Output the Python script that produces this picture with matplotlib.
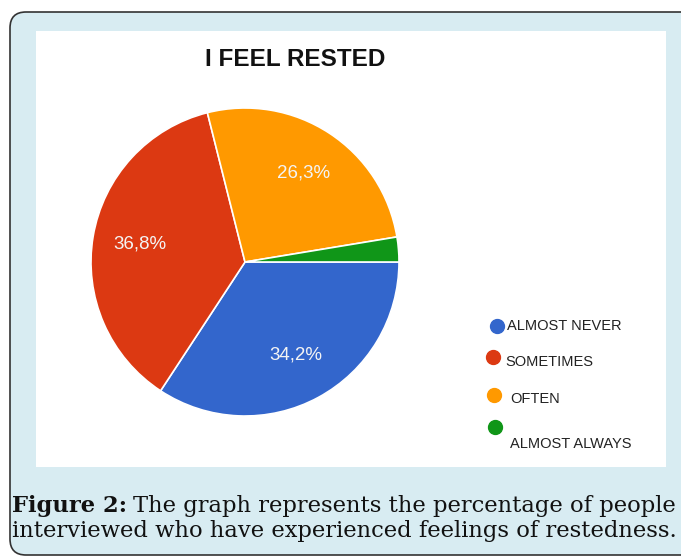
import matplotlib
matplotlib.use("Agg")
import matplotlib.pyplot as plt
from matplotlib.patches import FancyBboxPatch, Rectangle

labels = ["ALMOST NEVER", "SOMETIMES", "OFTEN", "ALMOST ALWAYS"]
values = [34.2, 36.8, 26.3, 2.6]
colors = ["#3366cc", "#dc3912", "#ff9900", "#109618"]

W, H = 681, 556
fig = plt.figure(figsize=(W / 100, H / 100), dpi=100)
fig.patch.set_facecolor("white")

# background box and white chart panel, in pixel coords
bg = fig.add_axes([0, 0, 1, 1])
bg.set_xlim(0, W)
bg.set_ylim(H, 0)
bg.axis("off")
bg.add_patch(FancyBboxPatch((10, 12), 700, 543, boxstyle="round,pad=0,rounding_size=16",
                            facecolor="#d8ecf2", edgecolor="#333333", linewidth=1.2))
bg.add_patch(Rectangle((36, 31), 630, 436, facecolor="white", edgecolor="none"))

bg.text(295, 60, "I FEEL RESTED", ha="center", va="center", fontsize=17.5,
        fontweight="bold", family="Liberation Sans", color="#111111")

# pie
cx, cy, r = 245, 262, 154
ax = fig.add_axes([(cx - r) / W, (H - cy - r) / H, 2 * r / W, 2 * r / H])
wedges, texts, autotexts = ax.pie(
    values, colors=colors, startangle=0, counterclock=False,
    autopct=lambda p: ("%.1f%%" % p).replace(".", ",") if p > 5 else "",
    pctdistance=0.69, wedgeprops=dict(edgecolor="white", linewidth=1.2))
for t in autotexts:
    t.set_color("#f4f4f4")
    t.set_fontsize(13.5)
    t.set_family("Liberation Sans")
ax.set_xlim(-1, 1)
ax.set_ylim(-1, 1)

# legend
mk_pos = [(497, 326), (493, 357), (494, 395), (495, 427)]
tx_pos = [(507, 326), (505, 362), (510, 399), (510, 444)]
for lab, col, (mx, my), (tx, ty) in zip(labels, colors, mk_pos, tx_pos):
    bg.scatter([mx], [my], s=100, color=col, zorder=3)
    bg.text(tx, ty, lab, ha="left", va="center", fontsize=10.5,
            family="Liberation Sans", color="#222222")

# caption
fs = 16.3
fam = "DejaVu Serif"
t1 = bg.text(12, 512, "Figure 2:", ha="left", va="baseline", fontsize=fs,
             fontweight="bold", family=fam, color="#111111")
fig.canvas.draw()
x_end = t1.get_window_extent().x1
bg.text(x_end + 6, 512, "The graph represents the percentage of people", ha="left",
        va="baseline", fontsize=fs, family=fam, color="#111111")
bg.text(12, 537, "interviewed who have experienced feelings of restedness.", ha="left",
        va="baseline", fontsize=fs, family=fam, color="#111111")

fig.savefig("out.png", dpi=100, facecolor=fig.get_facecolor())
